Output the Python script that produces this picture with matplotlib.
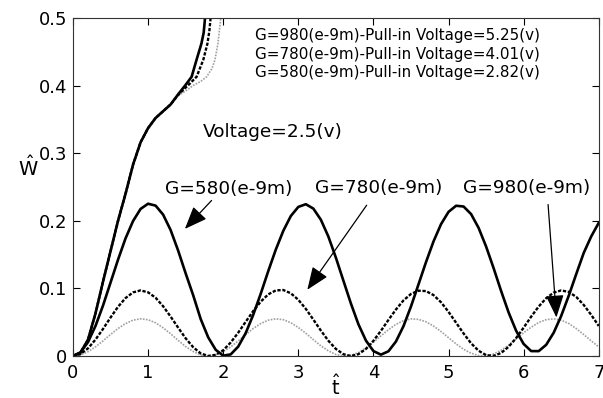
import numpy as np
import matplotlib

matplotlib.use("Agg")
import matplotlib.pyplot as plt

# sampling grid for the steady-voltage responses
t = np.linspace(0, 7, 71)

# dimensionless deflection at V = 2.5 V, one list per gap size
w_g580 = [0, 0.0053, 0.0205, 0.0445, 0.0746, 0.1085, 0.1425, 0.174, 0.1996, 0.2175,
          0.2252, 0.2224, 0.2091, 0.1863, 0.156, 0.1223, 0.090, 0.0548, 0.0277, 0.0092,
          0.0005, 0.0024, 0.0139, 0.034, 0.061, 0.0922, 0.1256, 0.1573, 0.1851, 0.207,
          0.2205, 0.2245, 0.218, 0.2016, 0.1767, 0.1455, 0.1115, 0.0777, 0.047, 0.0229,
          0.0073, 0.002, 0.007, 0.0215, 0.0441, 0.0733, 0.106, 0.1389, 0.1695, 0.195,
          0.2132, 0.2222, 0.2211, 0.2099, 0.1895, 0.1619, 0.1299, 0.0961, 0.0643, 0.0373,
          0.0178, 0.0073, 0.0072, 0.0166, 0.0345, 0.0594, 0.0891, 0.1212, 0.1526, 0.177,
          0.197]
w_g780 = [0, 0.0029, 0.0113, 0.0243, 0.040, 0.0569, 0.0728, 0.0857, 0.0941, 0.097,
          0.0942, 0.0862, 0.0736, 0.0583, 0.042, 0.0262, 0.0131, 0.0039, 0.0001, 0.0017,
          0.0085, 0.020, 0.0345, 0.0507, 0.0665, 0.0804, 0.0912, 0.097, 0.0976, 0.0928,
          0.0832, 0.0697, 0.0539, 0.0377, 0.0226, 0.0105, 0.0027, 0, 0.0027, 0.0104,
          0.0225, 0.0373, 0.0534, 0.0688, 0.0822, 0.0918, 0.0966, 0.096, 0.0901, 0.0795,
          0.0653, 0.0493, 0.0334, 0.0188, 0.0078, 0.0013, 0.0002, 0.0045, 0.0137, 0.0266,
          0.042, 0.0582, 0.0732, 0.0855, 0.0938, 0.097, 0.0948, 0.0874, 0.0755, 0.0607,
          0.0444]
w_g980 = [0, 0.0016, 0.0063, 0.0135, 0.0223, 0.0317, 0.0407, 0.048, 0.053, 0.055,
          0.0536, 0.0491, 0.0417, 0.0329, 0.0231, 0.014, 0.0067, 0.0017, 0, 0.0016,
          0.0063, 0.0135, 0.0223, 0.0317, 0.0407, 0.048, 0.053, 0.055, 0.0537, 0.0493,
          0.0422, 0.0336, 0.0242, 0.0151, 0.0076, 0.0023, 0.0001, 0.001, 0.0051, 0.0119,
          0.0204, 0.0298, 0.0389, 0.0468, 0.0523, 0.0549, 0.0542, 0.0506, 0.0443, 0.0362,
          0.0271, 0.018, 0.01, 0.0041, 0.0006, 0.0003, 0.003, 0.0085, 0.0162, 0.0252,
          0.0345, 0.0426, 0.0496, 0.0537, 0.055, 0.053, 0.0481, 0.0406, 0.0317, 0.0223,
          0.0135]

# pull-in responses (deflection runs away past 0.5)
t_pull = [0, 0.1, 0.2, 0.3, 0.4, 0.5, 0.6, 0.7, 0.8, 0.9, 1.0, 1.1, 1.2, 1.3]
w_pull = [0, 0.005, 0.024, 0.063, 0.11, 0.155, 0.2, 0.24, 0.283, 0.316, 0.337, 0.352, 0.362, 0.372]
t_pull980 = t_pull + [1.4, 1.5, 1.58, 1.645, 1.71, 1.74, 1.756, 1.77]
w_pull980 = w_pull + [0.387, 0.401, 0.413, 0.438, 0.462, 0.478, 0.497, 0.53]
t_pull780 = t_pull + [1.4, 1.5, 1.557, 1.646, 1.735, 1.79, 1.815, 1.83, 1.84]
w_pull780 = w_pull + [0.386, 0.397, 0.403, 0.413, 0.438, 0.462, 0.48, 0.497, 0.53]
t_pull580 = t_pull + [1.4, 1.5, 1.6, 1.7, 1.78, 1.85, 1.89, 1.93, 1.965, 1.975]
w_pull580 = w_pull + [0.385, 0.392, 0.400, 0.406, 0.413, 0.425, 0.438, 0.462, 0.497, 0.53]

pull_in_labels = [
    "G=980(e-9m)-Pull-in Voltage=5.25(v)",
    "G=780(e-9m)-Pull-in Voltage=4.01(v)",
    "G=580(e-9m)-Pull-in Voltage=2.82(v)",
]

solid = dict(color="black", lw=1.9, ls="-")
dashed = dict(color="black", lw=1.7, ls=(0, (1.4, 0.7)))
grey = dict(color="#a0a0a0", lw=1.2, ls=(0, (1.0, 0.8)))

fig = plt.figure(figsize=(6.03, 3.98), dpi=100)
ax = fig.add_axes([0.121, 0.1055, 0.872, 0.8495])

ax.plot(t, w_g980, **grey)
ax.plot(t, w_g780, **dashed)
ax.plot(t, w_g580, **solid)
ax.plot(t_pull580, w_pull580, **grey)
ax.plot(t_pull780, w_pull780, **dashed)
ax.plot(t_pull980, w_pull980, **solid)

ax.set_xlim(0, 7)
ax.set_ylim(0, 0.5)
ax.set_xticks(range(8))
ax.set_yticks([0, 0.1, 0.2, 0.3, 0.4, 0.5])
ax.set_yticklabels(["0", "0.1", "0.2", "0.3", "0.4", "0.5"])
ax.tick_params(direction="in", length=5, width=0.8, top=True, right=True,
               labelsize=13, colors="black")
ax.tick_params(axis="x", pad=6)
ax.tick_params(axis="y", pad=4)
for sp in ax.spines.values():
    sp.set_linewidth(0.8)
    sp.set_color("#333333")

ax.set_ylabel(r"$\mathregular{\hat{W}}$", rotation=0, fontsize=14)
ax.yaxis.set_label_coords(-0.085, 0.52)
ax.set_xlabel(r"$\mathregular{\hat{t}}$", fontsize=14, labelpad=-6)

for i, txt in enumerate(pull_in_labels):
    ax.text(2.42, 0.4674 - i * 0.0277, txt, fontsize=10.9, va="baseline", ha="left")

ax.text(1.73, 0.324, "Voltage=2.5(v)", fontsize=13.3, va="baseline")
ax.text(1.224, 0.240, "G=580(e-9m)", fontsize=13.3, va="baseline")
ax.text(3.22, 0.241, "G=780(e-9m)", fontsize=13.3, va="baseline")
ax.text(5.194, 0.241, "G=980(e-9m)", fontsize=13.3, va="baseline")

arrow = dict(arrowstyle="-|>,head_length=0.7,head_width=0.28", color="black",
             lw=0.9, mutation_scale=20, shrinkA=0, shrinkB=0)
ax.annotate("", xy=(1.49, 0.188), xytext=(1.845, 0.230), arrowprops=arrow)
ax.annotate("", xy=(3.12, 0.098), xytext=(3.91, 0.223), arrowprops=arrow)
ax.annotate("", xy=(6.436, 0.057), xytext=(6.325, 0.224), arrowprops=arrow)

fig.savefig("out.png", dpi=100)
plt.close(fig)
